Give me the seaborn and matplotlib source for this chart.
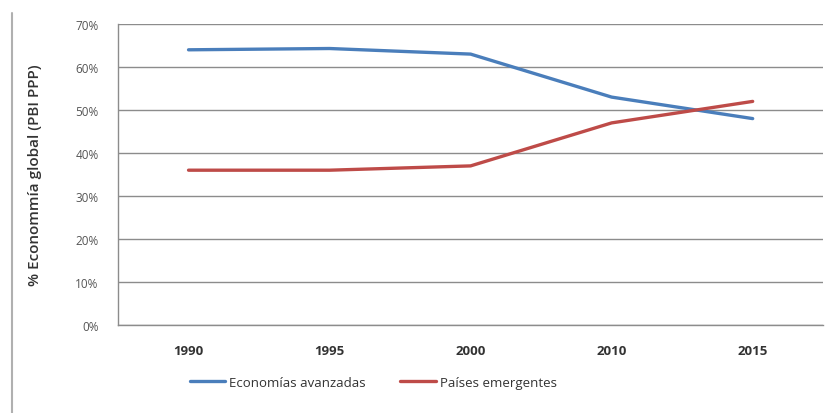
import matplotlib
matplotlib.use("Agg")
import matplotlib.pyplot as plt
from matplotlib.lines import Line2D
from matplotlib.ticker import PercentFormatter
import seaborn as sns
import pandas as pd

years = ["1990", "1995", "2000", "2010", "2015"]
avanzadas = [64, 64.3, 63, 53, 48]
emergentes = [36, 36, 37, 47, 52]
series_names = ["Economías avanzadas", "Países emergentes"]
colors = ["#4a7ebb", "#be4b48"]

df = pd.DataFrame({
    "year": years * 2,
    "value": avanzadas + emergentes,
    "serie": [series_names[0]] * len(years) + [series_names[1]] * len(years),
})

sns.set_style("white")
plt.rcParams["font.family"] = ["Open Sans", "DejaVu Sans"]

fig = plt.figure(figsize=(8.4, 4.14), dpi=100)
ax = fig.add_axes([0.1405, 0.2126, 0.8395, 0.727])

sns.lineplot(data=df, x="year", y="value", hue="serie", palette=colors,
             linewidth=2.4, ax=ax, sort=False, legend=True)

ax.set_xlim(-0.5, len(years) - 0.5)
ax.set_ylim(0, 70)
ax.set_yticks(range(0, 71, 10))
ax.yaxis.set_major_formatter(PercentFormatter(decimals=0))
ax.grid(axis="y", color="#8c8c8c", linewidth=1.0)
ax.set_axisbelow(True)
for s in ["top", "right"]:
    ax.spines[s].set_visible(False)
for s in ["left", "bottom"]:
    ax.spines[s].set_color("#8c8c8c")
    ax.spines[s].set_linewidth(1.0)

ax.tick_params(axis="y", labelsize=8.5, labelcolor="#555555", length=0, pad=14)
ax.tick_params(axis="x", labelsize=9.5, labelcolor="#333333", length=0, pad=14)
for lbl in ax.get_xticklabels():
    lbl.set_fontweight("bold")
ax.set_xlabel("")
ax.set_ylabel("% Econommía global (PBI PPP)", fontsize=11, color="#333333",
              fontweight="semibold", labelpad=24)

handles, labels = ax.get_legend_handles_labels()
ax.legend(handles, labels, loc="upper left", bbox_to_anchor=(0.085, -0.13), ncol=2,
          frameon=False, fontsize=9.5, handlelength=2.7, handletextpad=0.3,
          columnspacing=2.6, labelcolor="#333333")

fig.add_artist(Line2D([0.0143, 0.0143], [0.0, 0.965], color="#b0b0b0", linewidth=1.5,
                      transform=fig.transFigure))

fig.savefig("out.png", dpi=100, facecolor="white")
